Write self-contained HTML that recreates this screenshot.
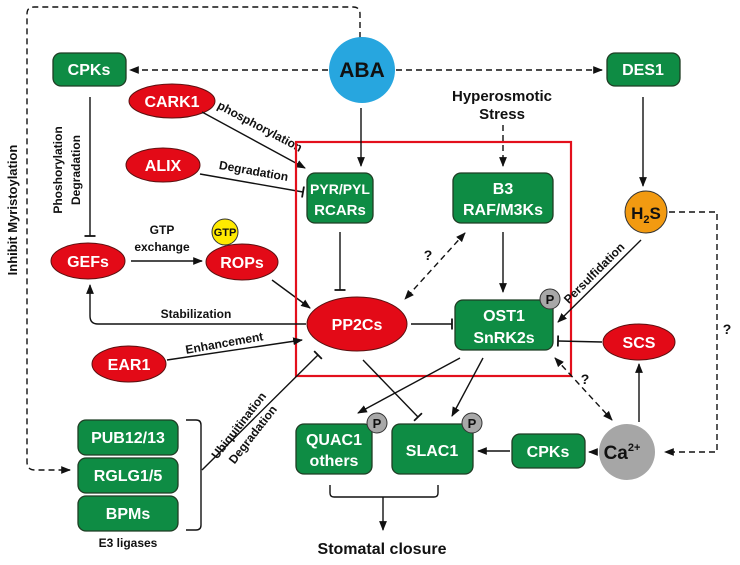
<!DOCTYPE html>
<html><head><meta charset="utf-8"><style>
html,body{margin:0;padding:0;background:#fff}
svg{display:block}
text{font-family:"Liberation Sans",Arial,sans-serif;font-weight:bold}
.w{fill:#fff;font-size:16px;text-anchor:middle}
.k{fill:#111;font-size:12px;text-anchor:middle}
.g{fill:#0e8c44;stroke:#1f3d24;stroke-width:1.3}
.r{fill:#e30a17;stroke:#5a1010;stroke-width:1}
.l{stroke:#111;stroke-width:1.4;fill:none}
.d{stroke:#111;stroke-width:1.4;fill:none;stroke-dasharray:6 4}
</style></head><body>
<svg width="740" height="565" viewBox="0 0 740 565">
<defs>
<marker id="a" viewBox="0 0 10 10" refX="9" refY="5" markerWidth="7" markerHeight="7" orient="auto-start-reverse"><path d="M0,1 L10,5 L0,9 z" fill="#111"/></marker>
<marker id="t" viewBox="0 0 4 10" refX="2" refY="5" markerWidth="4" markerHeight="8" orient="auto"><path d="M2,0 L2,10" stroke="#111" stroke-width="1.6"/></marker>
</defs>
<path class="d" d="M360,38 V14 Q360,7 353,7 H34 Q27,7 27,14 V462 Q27,470 35,470 H70" marker-end="url(#a)"/>
<text class="k" transform="translate(17,210) rotate(-90)" style="font-size:13px">Inhibit Myristoylation</text>
<circle cx="362" cy="70" r="33" fill="#27a6df"/>
<text x="362" y="77" style="font-size:21px;text-anchor:middle;fill:#111">ABA</text>
<line class="d" x1="328" y1="70" x2="130" y2="70" marker-end="url(#a)"/>
<line class="d" x1="396" y1="70" x2="602" y2="70" marker-end="url(#a)"/>
<rect class="g" x="53" y="53" width="73" height="33" rx="8"/><text class="w" x="89" y="75">CPKs</text>
<rect class="g" x="607" y="53" width="73" height="33" rx="8"/><text class="w" x="643" y="75">DES1</text>
<line class="l" x1="90" y1="97" x2="90" y2="236" marker-end="url(#t)"/>
<text class="k" transform="translate(62,170) rotate(-90)">Phoshorylation</text>
<text class="k" transform="translate(80,170) rotate(-90)">Degradation</text>
<ellipse class="r" cx="172" cy="101" rx="43" ry="17"/><text class="w" x="172" y="107">CARK1</text>
<ellipse class="r" cx="163" cy="165" rx="37" ry="17"/><text class="w" x="163" y="171">ALIX</text>
<line class="l" x1="202" y1="112" x2="305" y2="168" marker-end="url(#a)"/>
<text class="k" transform="translate(258,130) rotate(28)">phosphorylation</text>
<line class="l" x1="200" y1="174" x2="303" y2="192" marker-end="url(#t)"/>
<text class="k" transform="translate(253,175) rotate(10)">Degradation</text>
<ellipse class="r" cx="88" cy="261" rx="37" ry="18"/><text class="w" x="88" y="267">GEFs</text>
<ellipse class="r" cx="242" cy="262" rx="36" ry="18"/><text class="w" x="242" y="268">ROPs</text>
<circle cx="225" cy="232" r="13" fill="#ffea00" stroke="#333"/>
<text x="225" y="236" style="font-size:11px;text-anchor:middle;fill:#111">GTP</text>
<line class="l" x1="131" y1="261" x2="202" y2="261" marker-end="url(#a)"/>
<text class="k" x="162" y="234">GTP</text><text class="k" x="162" y="251">exchange</text>
<line class="l" x1="272" y1="280" x2="310" y2="308" marker-end="url(#a)"/>
<rect x="296" y="142" width="275" height="234" fill="none" stroke="#e3101c" stroke-width="2.2"/>
<text class="k" x="502" y="101" style="font-size:15px">Hyperosmotic</text>
<text class="k" x="502" y="119" style="font-size:15px">Stress</text>
<line class="d" x1="503" y1="125" x2="503" y2="166" marker-end="url(#a)"/>
<line class="l" x1="361" y1="108" x2="361" y2="166" marker-end="url(#a)"/>
<rect class="g" x="307" y="173" width="66" height="50" rx="8"/>
<text class="w" x="340" y="194" style="font-size:14px">PYR/PYL</text><text class="w" x="340" y="215" style="font-size:15px">RCARs</text>
<rect class="g" x="453" y="173" width="100" height="50" rx="8"/>
<text class="w" x="503" y="194">B3</text><text class="w" x="503" y="215">RAF/M3Ks</text>
<line class="l" x1="340" y1="232" x2="340" y2="290" marker-end="url(#t)"/>
<line class="l" x1="503" y1="232" x2="503" y2="292" marker-end="url(#a)"/>
<line class="d" x1="465" y1="233" x2="405" y2="299" marker-start="url(#a)" marker-end="url(#a)"/>
<text class="k" x="428" y="260" style="font-size:14px">?</text>
<ellipse class="r" cx="357" cy="324" rx="50" ry="27"/><text class="w" x="357" y="330">PP2Cs</text>
<line class="l" x1="411" y1="324" x2="452" y2="324" marker-end="url(#t)"/>
<path class="l" d="M306,324 H98 Q90,324 90,316 V285" marker-end="url(#a)"/>
<text class="k" x="196" y="318">Stabilization</text>
<ellipse class="r" cx="129" cy="364" rx="37" ry="18"/><text class="w" x="129" y="370">EAR1</text>
<line class="l" x1="167" y1="360" x2="302" y2="340" marker-end="url(#a)"/>
<text class="k" transform="translate(225,347) rotate(-10)">Enhancement</text>
<rect class="g" x="455" y="300" width="98" height="50" rx="8"/>
<text class="w" x="504" y="321">OST1</text><text class="w" x="504" y="343">SnRK2s</text>
<circle cx="550" cy="299" r="10" fill="#a8a8a8" stroke="#333"/><text x="550" y="304" style="font-size:13px;text-anchor:middle;fill:#111">P</text>
<line class="l" x1="643" y1="97" x2="643" y2="186" marker-end="url(#a)"/>
<circle cx="646" cy="212" r="21" fill="#f29a11" stroke="#333"/>
<text x="646" y="219" style="font-size:17px;text-anchor:middle;fill:#111">H<tspan style="font-size:11px" dy="4">2</tspan><tspan dy="-4">S</tspan></text>
<line class="l" x1="641" y1="240" x2="558" y2="322" marker-end="url(#a)"/>
<text class="k" transform="translate(597,276) rotate(-45)">Persulfidation</text>
<path class="d" d="M669,212 H717 V452 H665" marker-end="url(#a)"/>
<text class="k" x="727" y="334" style="font-size:14px">?</text>
<ellipse class="r" cx="639" cy="342" rx="36" ry="18"/><text class="w" x="639" y="348">SCS</text>
<line class="l" x1="602" y1="342" x2="558" y2="341" marker-end="url(#t)"/>
<line class="l" x1="639" y1="422" x2="639" y2="364" marker-end="url(#a)"/>
<circle cx="627" cy="452" r="28" fill="#a6a6a6"/>
<text x="622" y="459" style="font-size:19px;text-anchor:middle;fill:#111">Ca<tspan style="font-size:11px" dy="-8">2+</tspan></text>
<line class="d" x1="555" y1="358" x2="612" y2="420" marker-start="url(#a)" marker-end="url(#a)"/>
<text class="k" x="585" y="384" style="font-size:14px">?</text>
<line class="l" x1="597" y1="452" x2="589" y2="452" marker-end="url(#a)"/>
<rect class="g" x="512" y="434" width="73" height="34" rx="8"/><text class="w" x="548" y="457">CPKs</text>
<line class="l" x1="510" y1="451" x2="478" y2="451" marker-end="url(#a)"/>
<rect class="g" x="296" y="424" width="76" height="50" rx="8"/>
<text class="w" x="334" y="445">QUAC1</text><text class="w" x="334" y="466">others</text>
<circle cx="377" cy="423" r="10" fill="#a8a8a8" stroke="#333"/><text x="377" y="428" style="font-size:13px;text-anchor:middle;fill:#111">P</text>
<rect class="g" x="392" y="424" width="81" height="50" rx="8"/><text class="w" x="432" y="456">SLAC1</text>
<circle cx="472" cy="423" r="10" fill="#a8a8a8" stroke="#333"/><text x="472" y="428" style="font-size:13px;text-anchor:middle;fill:#111">P</text>
<line class="l" x1="460" y1="358" x2="358" y2="413" marker-end="url(#a)"/>
<line class="l" x1="483" y1="358" x2="452" y2="416" marker-end="url(#a)"/>
<line class="l" x1="363" y1="360" x2="418" y2="417" marker-end="url(#t)"/>
<path class="l" d="M330,485 V493 Q330,497 334,497 H434 Q438,497 438,493 V485"/>
<line class="l" x1="383" y1="497" x2="383" y2="530" marker-end="url(#a)"/>
<text class="k" x="382" y="554" style="font-size:16px">Stomatal closure</text>
<rect class="g" x="78" y="420" width="100" height="35" rx="8"/><text class="w" x="128" y="443">PUB12/13</text>
<rect class="g" x="78" y="458" width="100" height="35" rx="8"/><text class="w" x="128" y="481">RGLG1/5</text>
<rect class="g" x="78" y="496" width="100" height="35" rx="8"/><text class="w" x="128" y="519">BPMs</text>
<text class="k" x="128" y="547">E3 ligases</text>
<path class="l" d="M186,420 H196 Q201,420 201,425 V525 Q201,530 196,530 H186"/>
<line class="l" x1="202" y1="470" x2="318" y2="355" marker-end="url(#t)"/>
<text class="k" transform="translate(242,428) rotate(-52)">Ubiquitination</text>
<text class="k" transform="translate(256,437) rotate(-52)">Degradation</text>
</svg>
</body></html>
